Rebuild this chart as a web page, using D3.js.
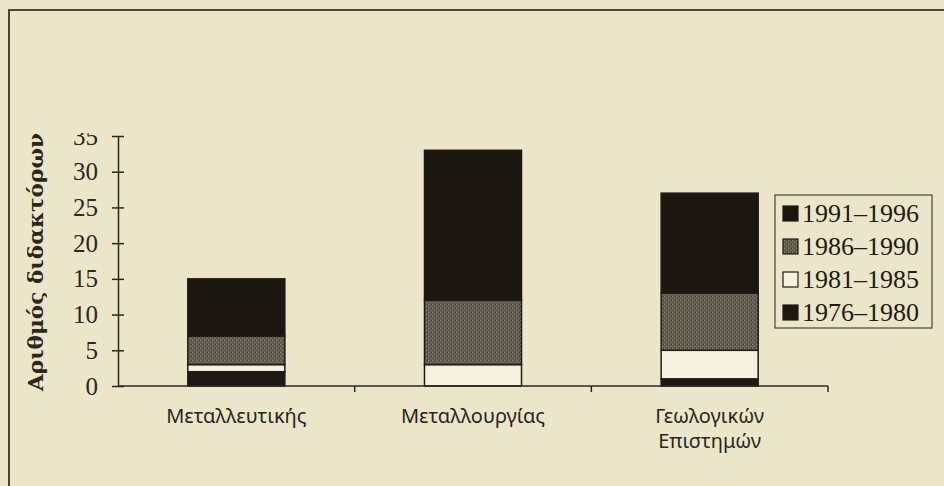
<!DOCTYPE html>
<html><head><meta charset="utf-8">
<script src="https://cdn.jsdelivr.net/npm/d3@7"></script>
<style>html,body{margin:0;padding:0;background:#ebe6c9;}svg{display:block;}</style>
</head><body>
<script>
const categories = [["Μεταλλευτικής"], ["Μεταλλουργίας"], ["Γεωλογικών", "Επιστημών"]];
const seriesNames = ["1976-1980", "1981-1985", "1986-1990", "1991-1996"];
const s1976 = [2, 0, 1];
const s1981 = [1, 3, 4];
const s1986 = [4, 9, 8];
const s1991 = [8, 21, 14];
const yTicks = [0, 5, 10, 15, 20, 25, 30, 35];
const yTitle = "Αριθμός διδακτόρων";

const W = 944, H = 486;
const svg = d3.select("body").append("svg").attr("width", W).attr("height", H);
svg.append("rect").attr("width", W).attr("height", H).attr("fill", "#ebe6c9");

const defs = svg.append("defs");
const pat = defs.append("pattern").attr("id", "grayPat").attr("patternUnits", "userSpaceOnUse").attr("width", 4).attr("height", 4);
pat.append("rect").attr("width", 4).attr("height", 4).attr("fill", "#605c50");
pat.append("rect").attr("x", 0).attr("y", 0).attr("width", 1).attr("height", 1).attr("fill", "#8e8a7a");
pat.append("rect").attr("x", 2).attr("y", 2).attr("width", 1).attr("height", 1).attr("fill", "#807c6c");
pat.append("rect").attr("x", 3).attr("y", 0).attr("width", 1).attr("height", 1).attr("fill", "#46423a");
const clip = defs.append("clipPath").attr("id", "topClip");
clip.append("rect").attr("x", -2000).attr("y", 133).attr("width", 4000).attr("height", H);

// frame
svg.append("path").attr("d", `M9,${H} L9,10 L${W},10`).attr("fill", "none").attr("stroke", "#4a4535").attr("stroke-width", 2);

const x0 = 118, x1 = 828, yTop = 136, yBot = 386;
const x = d3.scaleBand().domain(d3.range(categories.length)).range([x0, x1]).paddingInner(0.59).paddingOuter(0.295);
const y = d3.scaleLinear().domain([0, 35]).range([yBot, yTop]);

const stackData = categories.map((c, i) => ({i, "1976-1980": s1976[i], "1981-1985": s1981[i], "1986-1990": s1986[i], "1991-1996": s1991[i]}));
const stack = d3.stack().keys(seriesNames)(stackData);
const fills = {"1976-1980": "#1c1812", "1981-1985": "#f4f1de", "1986-1990": "url(#grayPat)", "1991-1996": "#1a1610"};

const g = svg.append("g");
stack.forEach(layer => {
  g.selectAll(null).data(layer).enter().append("rect")
    .attr("x", d => x(d.data.i))
    .attr("width", x.bandwidth())
    .attr("y", d => y(d[1]))
    .attr("height", d => Math.max(0, y(d[0]) - y(d[1])))
    .attr("fill", fills[layer.key])
    .attr("stroke", d => (d[1] - d[0]) > 0 ? "#1e1a14" : "none")
    .attr("stroke-width", 1.5);
});

// y axis
const yAxis = d3.axisLeft(y).tickValues(yTicks).tickSizeInner(6).tickSizeOuter(0).tickPadding(14);
const ya = svg.append("g").attr("transform", `translate(${x0},0)`).attr("clip-path", "url(#topClip)").call(yAxis);
ya.select(".domain").attr("stroke", "#2a261e").attr("stroke-width", 1.5);
ya.selectAll(".tick line").attr("x1", -6).attr("x2", 6).attr("stroke", "#2a261e").attr("stroke-width", 1.5);
ya.selectAll(".tick text").attr("font-family", "'Liberation Serif', serif").attr("font-size", 25).attr("fill", "#2a2620");

// x axis
const xa = svg.append("g").attr("transform", `translate(0,${yBot})`);
xa.append("line").attr("x1", x0).attr("x2", x1).attr("stroke", "#2a261e").attr("stroke-width", 1.5);
const bounds = d3.range(categories.length + 1).map(k => x0 + k * (x1 - x0) / categories.length);
xa.selectAll(null).data(bounds.slice(1)).enter().append("line")
  .attr("x1", d => d).attr("x2", d => d).attr("y1", 0).attr("y2", 6)
  .attr("stroke", "#2a261e").attr("stroke-width", 1.5);
categories.forEach((c, i) => {
  const t = xa.append("text").attr("text-anchor", "middle")
    .attr("font-family", "'Noto Sans', sans-serif").attr("font-size", 20).attr("fill", "#2a2620");
  c.forEach((line, j) => {
    t.append("tspan").attr("x", x(i) + x.bandwidth() / 2).attr("y", 37 + j * 25).text(line);
  });
});

// y title
svg.append("text").attr("transform", "translate(43,262) rotate(-90)").attr("text-anchor", "middle")
  .attr("font-family", "'DejaVu Serif', serif").attr("font-weight", "bold").attr("font-size", 20)
  .attr("textLength", 258).attr("lengthAdjust", "spacingAndGlyphs")
  .attr("fill", "#2a2620").text(yTitle);

// legend
const lg = svg.append("g");
lg.append("rect").attr("x", 775).attr("y", 195).attr("width", 157).attr("height", 133)
  .attr("fill", "none").attr("stroke", "#4a4535").attr("stroke-width", 1.2);
const legendOrder = seriesNames.slice().reverse();
legendOrder.forEach((k, j) => {
  const cy = 214 + j * 33;
  lg.append("rect").attr("x", 783).attr("y", cy - 8).attr("width", 15).attr("height", 15)
    .attr("fill", fills[k]).attr("stroke", "#1e1a14").attr("stroke-width", 1.2);
  lg.append("text").attr("x", 802).attr("y", cy + 8).attr("font-family", "'Liberation Serif', serif")
    .attr("font-size", 26).attr("fill", "#1e1a14").text(k.replace("-", "–"));
});
</script>
</body></html>
